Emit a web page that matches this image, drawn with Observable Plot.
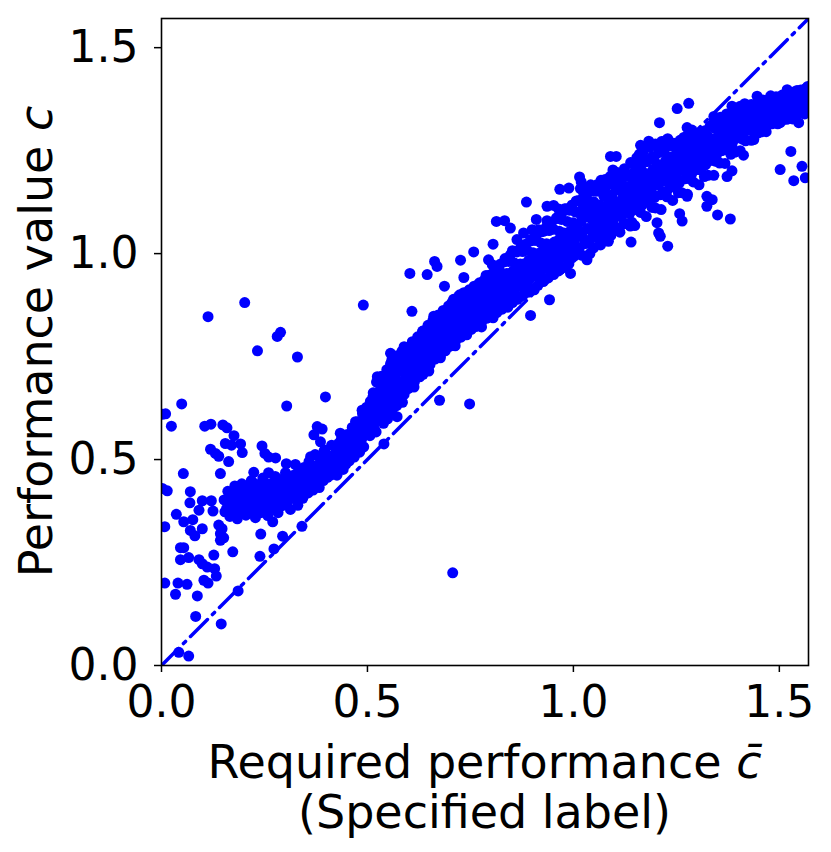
<!DOCTYPE html>
<html>
<head>
<meta charset="utf-8">
<script src="https://cdn.jsdelivr.net/npm/d3@7"></script>
<script src="https://cdn.jsdelivr.net/npm/@observablehq/plot@0.6"></script>
<style>
  html, body { margin: 0; padding: 0; background: #fff; }
  svg { display: block; }
</style>
</head>
<body>
<div id="chart"></div>
<script>
// ---------- data ----------
const axisMax = Math.PI / 2;            // both axes run 0 .. π/2
const tickValues = [0, 0.5, 1.0, 1.5];
const diagonal = [0, axisMax];          // reference line c = c̄

// scattered points at small required performance
const lowOutliers = [
[0.202,0.881],[0.113,0.847],[0.289,0.809],[0.281,0.799],[0.233,0.764],[0.330,0.749],[0.304,0.630],[0.049,0.635],
[0.010,0.611],[0.024,0.581],[0.105,0.581],[0.120,0.586],[0.149,0.584],[0.159,0.577],[0.176,0.558],[0.119,0.525],
[0.131,0.515],[0.139,0.508],[0.155,0.539],[0.170,0.535],[0.192,0.538],[0.196,0.517],[0.163,0.495],[0.244,0.533],
[0.251,0.515],[0.277,0.504],[0.260,0.506],[0.053,0.466],[0.143,0.466],[0.224,0.469],[0.260,0.468],[0.014,0.424],
[0.070,0.422],[0.069,0.395],[0.099,0.400],[0.121,0.400],[0.091,0.377],[0.125,0.375],[0.036,0.367],[0.054,0.349],
[0.076,0.354],[0.008,0.337],[0.070,0.328],[0.081,0.315],[0.099,0.332],[0.139,0.341],[0.147,0.332],[0.143,0.320],
[0.154,0.373],[0.143,0.304],[0.151,0.310],[0.173,0.276],[0.046,0.286],[0.054,0.286],[0.046,0.257],[0.066,0.262],
[0.091,0.257],[0.099,0.247],[0.111,0.239],[0.127,0.268],[0.129,0.235],[0.133,0.217],[0.103,0.207],[0.113,0.200],
[0.008,0.200],[0.040,0.200],[0.062,0.197],[0.034,0.173],[0.087,0.169],[0.186,0.181],[0.083,0.119],[0.145,0.101],
[0.042,0.032],[0.066,0.023],[0.241,0.319],[0.294,0.314],[0.273,0.283],[0.239,0.265],[0.341,0.338],[0.270,0.349],
[0.002,0.430],[0.002,0.610]
];

// band, required performance 0.15 .. 0.5
const bandLow = [
[0.152,0.402],[0.158,0.381],[0.161,0.423],[0.166,0.362],[0.168,0.397],[0.172,0.415],[0.175,0.378],[0.178,0.436],
[0.181,0.391],[0.184,0.356],[0.186,0.408],[0.189,0.424],[0.192,0.372],[0.195,0.441],[0.197,0.395],[0.199,0.383],
[0.203,0.418],[0.205,0.365],[0.207,0.402],[0.211,0.432],[0.213,0.387],[0.216,0.411],[0.218,0.449],[0.221,0.376],
[0.223,0.398],[0.226,0.425],[0.228,0.359],[0.231,0.414],[0.233,0.392],[0.236,0.438],[0.238,0.405],[0.241,0.371],
[0.243,0.421],[0.246,0.455],[0.248,0.388],[0.251,0.409],[0.253,0.432],[0.256,0.396],[0.258,0.364],[0.261,0.418],
[0.263,0.441],[0.266,0.402],[0.268,0.381],[0.271,0.427],[0.273,0.412],[0.276,0.459],[0.278,0.394],[0.281,0.436],
[0.283,0.371],[0.286,0.419],[0.288,0.403],[0.291,0.445],[0.293,0.388],[0.296,0.427],[0.298,0.412],[0.301,0.468],
[0.303,0.433],[0.306,0.398],[0.308,0.451],[0.311,0.417],[0.313,0.379],[0.316,0.439],[0.318,0.425],[0.321,0.462],
[0.323,0.405],[0.326,0.447],[0.328,0.431],[0.331,0.389],[0.333,0.472],[0.336,0.418],[0.338,0.455],[0.341,0.437],
[0.343,0.406],[0.346,0.481],[0.348,0.446],[0.351,0.428],[0.353,0.462],[0.356,0.419],[0.358,0.495],[0.361,0.451],
[0.363,0.437],[0.366,0.473],[0.368,0.426],[0.371,0.459],[0.373,0.512],[0.376,0.444],[0.378,0.486],[0.381,0.467],
[0.383,0.432],[0.386,0.501],[0.388,0.456],[0.391,0.478],[0.393,0.449],[0.396,0.523],[0.398,0.468],[0.401,0.491],
[0.403,0.457],[0.406,0.509],[0.408,0.477],[0.411,0.462],[0.413,0.535],[0.416,0.495],[0.418,0.471],[0.421,0.514],
[0.423,0.486],[0.426,0.462],[0.428,0.527],[0.431,0.498],[0.433,0.481],[0.436,0.548],[0.438,0.511],[0.441,0.476],
[0.443,0.529],[0.446,0.502],[0.448,0.489],[0.451,0.561],[0.453,0.521],[0.456,0.497],[0.458,0.543],[0.461,0.515],
[0.463,0.578],[0.466,0.532],[0.468,0.506],[0.471,0.556],[0.473,0.524],[0.476,0.592],[0.478,0.541],[0.481,0.518],
[0.483,0.571],[0.486,0.549],[0.488,0.612],[0.491,0.531],[0.493,0.583],[0.496,0.562],[0.498,0.627],
[0.205,0.428],[0.215,0.395],[0.225,0.442],[0.235,0.381],[0.245,0.401],[0.255,0.376],[0.265,0.432],[0.275,0.389],
[0.285,0.452],[0.295,0.401],[0.305,0.422],[0.315,0.408],[0.325,0.419],[0.335,0.441],[0.345,0.423],[0.355,0.442],
[0.365,0.459],[0.375,0.472],[0.385,0.458],[0.395,0.491],[0.405,0.482],[0.415,0.508],[0.425,0.499],[0.435,0.522],
[0.445,0.515],[0.455,0.531],[0.465,0.552],[0.475,0.567],[0.485,0.586],[0.495,0.601]
];

// band, required performance 0.5 .. 1.0 (first reading)
const bandMid = [
[0.502,0.566],[0.504,0.598],[0.507,0.641],[0.509,0.583],[0.512,0.617],[0.514,0.662],[0.517,0.574],[0.519,0.603],
[0.522,0.688],[0.524,0.632],[0.527,0.595],[0.529,0.651],[0.532,0.613],[0.534,0.702],[0.537,0.642],[0.539,0.588],
[0.542,0.671],[0.544,0.624],[0.547,0.718],[0.549,0.657],[0.552,0.611],[0.554,0.689],[0.557,0.643],[0.559,0.741],
[0.562,0.672],[0.564,0.628],[0.567,0.708],[0.569,0.661],[0.572,0.752],[0.574,0.691],[0.577,0.645],[0.579,0.726],
[0.582,0.679],[0.584,0.763],[0.587,0.712],[0.589,0.658],[0.592,0.741],[0.594,0.697],[0.597,0.771],[0.599,0.728],
[0.602,0.676],[0.604,0.751],[0.607,0.712],[0.609,0.786],[0.612,0.739],[0.614,0.689],[0.617,0.764],[0.619,0.722],
[0.622,0.798],[0.624,0.751],[0.627,0.706],[0.629,0.778],[0.632,0.737],[0.634,0.812],[0.637,0.762],[0.639,0.721],
[0.642,0.791],[0.644,0.748],[0.647,0.826],[0.649,0.773],[0.652,0.731],[0.654,0.803],[0.657,0.759],[0.659,0.838],
[0.662,0.786],[0.664,0.744],[0.667,0.815],[0.669,0.771],[0.672,0.851],[0.674,0.798],[0.677,0.752],[0.679,0.827],
[0.682,0.783],[0.684,0.862],[0.687,0.809],[0.689,0.764],[0.692,0.838],[0.694,0.794],[0.697,0.873],[0.699,0.821],
[0.702,0.776],[0.704,0.849],[0.707,0.805],[0.709,0.889],[0.712,0.832],[0.714,0.788],[0.717,0.861],[0.719,0.815],
[0.722,0.897],[0.724,0.843],[0.727,0.797],[0.729,0.872],[0.732,0.826],[0.734,0.905],[0.737,0.854],[0.739,0.808],
[0.742,0.883],[0.744,0.836],[0.747,0.912],[0.749,0.864],[0.752,0.816],[0.754,0.892],[0.757,0.845],[0.759,0.921],
[0.762,0.873],[0.764,0.826],[0.767,0.901],[0.769,0.853],[0.772,0.929],[0.774,0.881],[0.777,0.834],[0.779,0.909],
[0.782,0.861],[0.784,0.936],[0.787,0.889],[0.789,0.843],[0.792,0.917],[0.794,0.869],[0.797,0.948],[0.799,0.896],
[0.802,0.851],[0.804,0.925],[0.807,0.877],[0.809,0.962],[0.812,0.904],[0.814,0.857],[0.817,0.933],[0.819,0.886],
[0.822,0.974],[0.824,0.912],[0.827,0.865],[0.829,0.941],[0.832,0.894],[0.834,0.988],[0.837,0.921],[0.839,0.872],
[0.842,0.949],[0.844,0.903],[0.847,0.997],[0.849,0.929],[0.852,0.881],[0.854,0.958],[0.857,0.912],[0.859,1.006],
[0.862,0.938],[0.864,0.889],[0.867,0.966],[0.869,0.921],[0.872,1.014],[0.874,0.946],[0.877,0.898],[0.879,0.975],
[0.882,0.929],[0.884,1.023],[0.887,0.955],[0.889,0.906],[0.892,0.984],[0.894,0.938],[0.897,1.031],[0.899,0.963],
[0.902,0.915],[0.904,0.992],[0.907,0.946],[0.909,1.042],[0.912,0.972],[0.914,0.923],[0.917,1.001],[0.919,0.955],
[0.922,1.053],[0.924,0.981],[0.927,0.932],[0.929,1.011],[0.932,0.964],[0.934,1.064],[0.937,0.989],[0.939,0.941],
[0.942,1.019],[0.944,0.972],[0.947,1.076],[0.949,0.998],[0.952,0.949],[0.954,1.028],[0.957,0.981],[0.959,1.087],
[0.962,1.007],[0.964,0.958],[0.967,1.036],[0.969,0.989],[0.972,1.098],[0.974,1.015],[0.977,0.966],[0.979,1.045],
[0.982,0.998],[0.984,1.109],[0.987,1.024],[0.989,0.975],[0.992,1.054],[0.994,1.006],[0.997,1.118],[0.999,1.033]
];

// band, required performance 0.5 .. 1.0 (second reading, fills the core)
const bandMidFill = [
[0.501,0.573],[0.504,0.624],[0.506,0.558],[0.509,0.607],[0.513,0.651],[0.515,0.600],[0.518,0.632],[0.521,0.567],
[0.523,0.659],[0.527,0.597],[0.530,0.640],[0.532,0.687],[0.535,0.597],[0.538,0.668],[0.541,0.627],[0.543,0.694],
[0.546,0.649],[0.549,0.599],[0.552,0.675],[0.555,0.634],[0.557,0.705],[0.560,0.661],[0.563,0.626],[0.566,0.651],
[0.568,0.713],[0.571,0.631],[0.574,0.690],[0.577,0.740],[0.580,0.679],[0.582,0.715],[0.585,0.639],[0.588,0.745],
[0.591,0.673],[0.594,0.720],[0.596,0.771],[0.599,0.672],[0.602,0.747],[0.605,0.704],[0.607,0.772],[0.610,0.725],
[0.613,0.676],[0.616,0.750],[0.618,0.709],[0.621,0.778],[0.624,0.735],[0.627,0.701],[0.629,0.725],[0.632,0.785],
[0.635,0.707],[0.638,0.763],[0.641,0.810],[0.643,0.752],[0.646,0.786],[0.649,0.715],[0.652,0.813],[0.655,0.746],
[0.657,0.788],[0.660,0.838],[0.663,0.745],[0.666,0.816],[0.668,0.774],[0.671,0.840],[0.674,0.795],[0.677,0.747],
[0.679,0.820],[0.682,0.779],[0.685,0.849],[0.688,0.806],[0.691,0.770],[0.693,0.794],[0.696,0.857],[0.699,0.775],
[0.702,0.833],[0.705,0.881],[0.707,0.819],[0.710,0.854],[0.713,0.776],[0.716,0.880],[0.718,0.807],[0.721,0.851],
[0.724,0.900],[0.727,0.804],[0.729,0.874],[0.732,0.832],[0.735,0.896],[0.738,0.850],[0.741,0.803],[0.743,0.872],
[0.746,0.832],[0.749,0.897],[0.752,0.855],[0.755,0.821],[0.757,0.843],[0.760,0.901],[0.763,0.823],[0.766,0.878],
[0.768,0.924],[0.771,0.864],[0.774,0.898],[0.777,0.822],[0.779,0.923],[0.782,0.852],[0.785,0.896],[0.788,0.947],
[0.791,0.848],[0.793,0.920],[0.796,0.876],[0.799,0.943],[0.802,0.896],[0.805,0.844],[0.807,0.920],[0.810,0.876],
[0.813,0.949],[0.816,0.903],[0.818,0.864],[0.821,0.890],[0.824,0.954],[0.827,0.868],[0.829,0.928],[0.832,0.980],
[0.835,0.914],[0.838,0.952],[0.841,0.870],[0.843,0.981],[0.846,0.903],[0.849,0.952],[0.852,1.007],[0.855,0.898],
[0.857,0.977],[0.860,0.929],[0.863,1.004],[0.866,0.950],[0.868,0.893],[0.871,0.975],[0.874,0.926],[0.877,1.005],
[0.879,0.953],[0.882,0.911],[0.885,0.938],[0.888,1.008],[0.891,0.913],[0.893,0.978],[0.896,1.034],[0.899,0.961],
[0.902,1.002],[0.905,0.912],[0.907,1.032],[0.910,0.947],[0.913,0.999],[0.916,1.058],[0.918,0.941],[0.921,1.026],
[0.924,0.975],[0.927,1.054],[0.929,0.997],[0.932,0.938],[0.935,1.024],[0.938,0.974],[0.941,1.056],[0.943,1.002],
[0.946,0.959],[0.949,0.987],[0.952,1.059],[0.955,0.962],[0.957,1.028],[0.960,1.085],[0.963,1.012],[0.966,1.054],
[0.968,0.962],[0.971,1.083],[0.974,0.998],[0.977,1.050],[0.979,1.109],[0.982,0.993],[0.985,1.078],[0.988,1.026],
[0.991,1.105],[0.993,1.048],[0.996,0.989],[0.999,1.075]
];

// scattered points around the middle band
const midOutliers = [
[0.490,0.875],[0.398,0.652],[0.675,0.644],[0.748,0.635],[0.707,0.225],[0.540,0.538],[0.896,0.850],[0.942,0.888],
[0.603,0.952],[0.645,0.949],[0.687,0.921],[0.734,0.942],[0.663,0.981],[0.669,0.969],[0.726,0.984],[0.794,0.985],
[0.803,0.973],[0.805,1.023],[0.758,1.004],[0.608,0.860],[0.661,0.848],[0.813,1.078],[0.833,1.080],[0.847,1.062],
[0.886,1.125],[0.910,1.083],[0.936,1.080],[0.936,1.115],[0.952,1.117],[0.964,1.108],[0.967,1.156],[0.989,1.159],
[0.863,1.034],[0.879,1.050],[0.900,1.058],[0.524,0.701],[0.556,0.758],[0.589,0.774],[0.633,0.807],
[0.362,0.507],[0.378,0.580],[0.390,0.574],[0.370,0.560],[0.386,0.543],[0.434,0.564],[0.487,0.620],[0.503,0.616],
[0.471,0.592],[0.394,0.519],[0.422,0.531],[0.430,0.539],[0.303,0.490],[0.325,0.488],[0.556,0.732],[0.527,0.697],
[0.532,0.673],[0.572,0.604],[0.940,0.965],[0.964,0.973],[0.993,0.952],[1.057,1.167],[1.001,1.013]
];

// band, required performance 1.0 .. π/2 (first reading)
const bandHigh = [
[1.002,0.994],[1.004,1.071],[1.007,1.128],[1.009,1.042],[1.012,1.101],[1.014,1.013],[1.017,1.158],[1.019,1.078],
[1.022,1.052],[1.024,1.117],[1.027,1.024],[1.029,1.089],[1.032,1.143],[1.034,1.061],[1.037,1.106],[1.039,1.032],
[1.042,1.167],[1.044,1.084],[1.047,1.048],[1.049,1.126],[1.052,1.071],[1.054,1.152],[1.057,1.039],[1.059,1.097],
[1.062,1.118],[1.064,1.066],[1.067,1.178],[1.069,1.106],[1.072,1.054],[1.074,1.139],[1.077,1.088],[1.079,1.162],
[1.082,1.072],[1.084,1.121],[1.087,1.049],[1.089,1.187],[1.092,1.108],[1.094,1.143],[1.097,1.081],[1.099,1.169],
[1.102,1.125],[1.104,1.063],[1.107,1.197],[1.109,1.116],[1.112,1.154],[1.114,1.091],[1.117,1.178],[1.119,1.134],
[1.122,1.072],[1.124,1.206],[1.127,1.145],[1.129,1.112],[1.132,1.188],[1.134,1.163],[1.137,1.098],[1.139,1.221],
[1.142,1.152],[1.144,1.126],[1.147,1.197],[1.149,1.174],[1.152,1.107],[1.154,1.233],[1.157,1.161],[1.159,1.138],
[1.162,1.211],[1.164,1.186],[1.167,1.118],[1.169,1.247],[1.172,1.172],[1.174,1.149],[1.177,1.223],[1.179,1.194],
[1.182,1.127],[1.184,1.258],[1.187,1.181],[1.189,1.159],[1.192,1.236],[1.194,1.205],[1.197,1.136],[1.199,1.266],
[1.202,1.192],[1.204,1.168],[1.207,1.245],[1.209,1.214],[1.212,1.143],[1.214,1.272],[1.217,1.201],[1.219,1.177],
[1.222,1.254],[1.224,1.226],[1.227,1.152],[1.229,1.279],[1.232,1.209],[1.234,1.186],[1.237,1.262],[1.239,1.235],
[1.242,1.162],[1.244,1.268],[1.247,1.218],[1.249,1.196],[1.252,1.247],[1.254,1.229],[1.257,1.171],[1.259,1.275],
[1.262,1.226],[1.264,1.203],[1.267,1.254],[1.269,1.241],[1.272,1.182],[1.274,1.284],[1.277,1.233],[1.279,1.212],
[1.282,1.262],[1.284,1.248],[1.287,1.193],[1.289,1.279],[1.292,1.241],[1.294,1.221],[1.297,1.268],[1.299,1.256],
[1.302,1.204],[1.304,1.291],[1.307,1.249],[1.309,1.231],[1.312,1.276],[1.314,1.263],[1.317,1.214],[1.319,1.298],
[1.322,1.257],[1.324,1.239],[1.327,1.284],[1.329,1.271],[1.332,1.226],[1.334,1.309],[1.337,1.264],[1.339,1.248],
[1.342,1.322],[1.344,1.279],[1.347,1.238],[1.349,1.302],[1.352,1.272],[1.354,1.256],[1.357,1.331],[1.359,1.288],
[1.362,1.251],[1.364,1.312],[1.367,1.281],[1.369,1.265],[1.372,1.339],[1.374,1.297],[1.377,1.263],[1.379,1.321],
[1.382,1.289],[1.384,1.274],[1.387,1.346],[1.389,1.306],[1.392,1.278],[1.394,1.329],[1.397,1.298],[1.399,1.283],
[1.402,1.352],[1.404,1.314],[1.407,1.291],[1.409,1.336],[1.412,1.306],[1.414,1.293],[1.417,1.358],[1.419,1.322],
[1.422,1.303],[1.424,1.343],[1.427,1.314],[1.429,1.301],[1.432,1.362],[1.434,1.331],[1.437,1.312],[1.439,1.349],
[1.442,1.323],[1.444,1.308],[1.447,1.367],[1.449,1.339],[1.452,1.321],[1.454,1.356],[1.457,1.331],[1.459,1.317],
[1.462,1.372],[1.464,1.346],[1.467,1.329],[1.469,1.361],[1.472,1.338],[1.474,1.326],[1.477,1.376],[1.479,1.353],
[1.482,1.336],[1.484,1.367],[1.487,1.344],[1.489,1.332],[1.492,1.381],[1.494,1.359],[1.497,1.342],[1.499,1.371],
[1.502,1.351],[1.504,1.338],[1.507,1.385],[1.509,1.364],[1.512,1.347],[1.514,1.376],[1.517,1.356],[1.519,1.343],
[1.522,1.389],[1.524,1.369],[1.527,1.352],[1.529,1.381],[1.532,1.361],[1.534,1.348],[1.537,1.393],[1.539,1.374],
[1.542,1.357],[1.544,1.385],[1.547,1.366],[1.549,1.353],[1.552,1.397],[1.554,1.378],[1.557,1.362],[1.559,1.389],
[1.562,1.371],[1.564,1.401],[1.567,1.383],[1.569,1.406]
];

// band, required performance 1.0 .. π/2 (second reading, fills the core)
const bandHighFill = [
[1.002,1.029],[1.005,1.101],[1.007,1.001],[1.010,1.070],[1.013,1.129],[1.016,1.052],[1.018,1.095],[1.021,0.996],
[1.024,1.128],[1.027,1.034],[1.029,1.091],[1.032,1.157],[1.035,1.025],[1.038,1.121],[1.041,1.061],[1.043,1.152],
[1.046,1.085],[1.049,1.014],[1.052,1.116],[1.055,1.055],[1.057,1.152],[1.060,1.087],[1.063,1.035],[1.066,1.068],
[1.068,1.151],[1.071,1.035],[1.074,1.113],[1.077,1.180],[1.080,1.092],[1.082,1.140],[1.085,1.030],[1.088,1.174],
[1.091,1.072],[1.093,1.132],[1.096,1.203],[1.099,1.061],[1.102,1.162],[1.105,1.100],[1.107,1.192],[1.110,1.124],
[1.113,1.052],[1.116,1.155],[1.118,1.093],[1.121,1.191],[1.124,1.125],[1.127,1.073],[1.129,1.105],[1.132,1.189],
[1.135,1.073],[1.138,1.152],[1.141,1.219],[1.143,1.130],[1.146,1.179],[1.149,1.068],[1.152,1.212],[1.155,1.110],
[1.157,1.170],[1.160,1.241],[1.163,1.100],[1.166,1.201],[1.168,1.138],[1.171,1.231],[1.174,1.162],[1.177,1.090],
[1.179,1.192],[1.182,1.131],[1.185,1.229],[1.188,1.164],[1.191,1.112],[1.193,1.144],[1.196,1.228],[1.199,1.111],
[1.202,1.190],[1.205,1.256],[1.207,1.167],[1.210,1.215],[1.213,1.107],[1.216,1.249],[1.218,1.147],[1.221,1.207],
[1.224,1.274],[1.227,1.138],[1.229,1.234],[1.232,1.173],[1.235,1.263],[1.238,1.197],[1.241,1.129],[1.243,1.225],
[1.246,1.168],[1.249,1.258],[1.252,1.198],[1.255,1.148],[1.257,1.178],[1.260,1.257],[1.263,1.148],[1.266,1.222],
[1.268,1.282],[1.271,1.201],[1.274,1.245],[1.277,1.144],[1.279,1.275],[1.282,1.182],[1.285,1.237],[1.288,1.300],
[1.291,1.174],[1.293,1.264],[1.296,1.208],[1.299,1.290],[1.302,1.230],[1.305,1.167],[1.307,1.256],[1.310,1.203],
[1.313,1.287],[1.316,1.232],[1.318,1.187],[1.321,1.216],[1.324,1.286],[1.327,1.190],[1.329,1.254],[1.332,1.310],
[1.335,1.238],[1.338,1.277],[1.341,1.190],[1.343,1.304],[1.346,1.224],[1.349,1.272],[1.352,1.327],[1.355,1.220],
[1.357,1.297],[1.360,1.250],[1.363,1.322],[1.366,1.272],[1.368,1.219],[1.371,1.295],[1.374,1.252],[1.377,1.323],
[1.379,1.277],[1.382,1.241],[1.385,1.265],[1.388,1.326],[1.391,1.246],[1.393,1.301],[1.396,1.347],[1.399,1.288],
[1.402,1.322],[1.405,1.250],[1.407,1.344],[1.410,1.278],[1.413,1.318],[1.416,1.364],[1.418,1.274],[1.421,1.339],
[1.424,1.300],[1.427,1.358],[1.429,1.316],[1.432,1.275],[1.435,1.336],[1.438,1.300],[1.441,1.358],[1.443,1.320],
[1.446,1.292],[1.449,1.311],[1.452,1.358],[1.455,1.295],[1.457,1.337],[1.460,1.373],[1.463,1.327],[1.466,1.353],
[1.468,1.296],[1.471,1.370],[1.474,1.317],[1.477,1.349],[1.479,1.383],[1.482,1.315],[1.485,1.364],[1.488,1.334],
[1.491,1.379],[1.493,1.347],[1.496,1.315],[1.499,1.360],[1.502,1.334],[1.505,1.377],[1.507,1.349],[1.510,1.326],
[1.513,1.340],[1.516,1.376],[1.518,1.326],[1.521,1.360],[1.524,1.388],[1.527,1.352],[1.529,1.372],[1.532,1.327],
[1.535,1.385],[1.538,1.344],[1.541,1.368],[1.543,1.396],[1.546,1.341],[1.549,1.381],[1.552,1.357],[1.555,1.393],
[1.558,1.366],[1.561,1.339],[1.564,1.379],[1.567,1.356],[1.569,1.392]
];

// scattered points around the upper band
const highOutliers = [
[1.252,1.352],[1.280,1.365],[1.209,1.318],[1.276,1.306],[1.385,1.358],[1.547,1.318],[1.528,1.248],[1.502,1.204],
[1.535,1.177],[1.555,1.212],[1.563,1.184],[1.413,1.239],[1.385,1.201],[1.350,1.094],[1.381,1.084],[1.324,1.115],
[1.337,1.131],[1.258,1.097],[1.264,1.079],[1.229,1.018],[1.140,1.028],[1.207,1.050],[1.211,1.042],[1.033,0.985],
[1.040,1.000],[1.066,1.021],[1.091,1.044],[1.134,1.071],[1.142,1.076],[1.090,1.236],[1.104,1.236],[1.088,1.178],
[1.163,1.263],[1.183,1.273],[1.232,1.273],[1.015,1.186],[1.019,1.174],[1.025,1.147],[1.033,1.131],[1.276,1.139],
[1.324,1.139],[1.373,1.187],[1.438,1.277],[1.502,1.318],[1.203,1.075],[1.138,1.067],[1.341,1.333],[1.405,1.358],
[1.446,1.382],[1.519,1.398]
];

const points = [...lowOutliers, ...bandLow, ...midOutliers, ...bandMid, ...bandMidFill,
                ...bandHigh, ...bandHighFill, ...highOutliers];

// ---------- chart ----------
const W = 831, H = 852;
const mLeft = 161, mRight = 23, mTop = 18, mBottom = 187;
const tickFS = 44, labelFS = 46;
const blue = "#0000ff";

const chart = Plot.plot({
  width: W,
  height: H,
  marginLeft: mLeft,
  marginRight: mRight,
  marginTop: mTop,
  marginBottom: mBottom,
  style: { fontFamily: "'DejaVu Sans', sans-serif", fontSize: tickFS + "px", background: "#fff", color: "#000" },
  x: { domain: [0, axisMax] },
  y: { domain: [0, axisMax] },
  marks: [
    Plot.line(diagonal, { x: d => d, y: d => d, stroke: blue, strokeWidth: 3.5, strokeDasharray: "24,7,3,7", clip: true }),
    Plot.dot(points, { x: d => d[0], y: d => d[1], r: 5.5, fill: blue, stroke: "none", clip: true }),
    Plot.frame({ stroke: "#000", strokeWidth: 1.6 }),
    Plot.axisX(tickValues, { tickSize: 7, tickPadding: 13, fontSize: tickFS, tickFormat: d3.format(".1f"), label: null, strokeWidth: 1.5 }),
    Plot.axisY(tickValues, { tickSize: 7, tickPadding: 16, fontSize: tickFS, tickFormat: d3.format(".1f"), label: null, strokeWidth: 1.5 })
  ]
});

document.getElementById("chart").appendChild(chart);

// axis titles with italic math symbols
const svg = d3.select(chart);
const cx = mLeft + (W - mLeft - mRight) / 2;
const cy = mTop + (H - mTop - mBottom) / 2;

const xl1 = svg.append("text").attr("x", cx).attr("y", 778).attr("text-anchor", "middle")
  .attr("font-size", labelFS).attr("fill", "#000");
xl1.append("tspan").text("Required performance ");
xl1.append("tspan").attr("font-style", "italic").text("c\u0304");

svg.append("text").attr("x", cx).attr("y", 828).attr("text-anchor", "middle")
  .attr("font-size", labelFS).attr("fill", "#000").text("(Specified label)");

const yl = svg.append("text").attr("transform", `translate(52,${cy}) rotate(-90)`)
  .attr("text-anchor", "middle").attr("font-size", labelFS).attr("fill", "#000");
yl.append("tspan").text("Performance value ");
yl.append("tspan").attr("font-style", "italic").text("c");
</script>
</body>
</html>
